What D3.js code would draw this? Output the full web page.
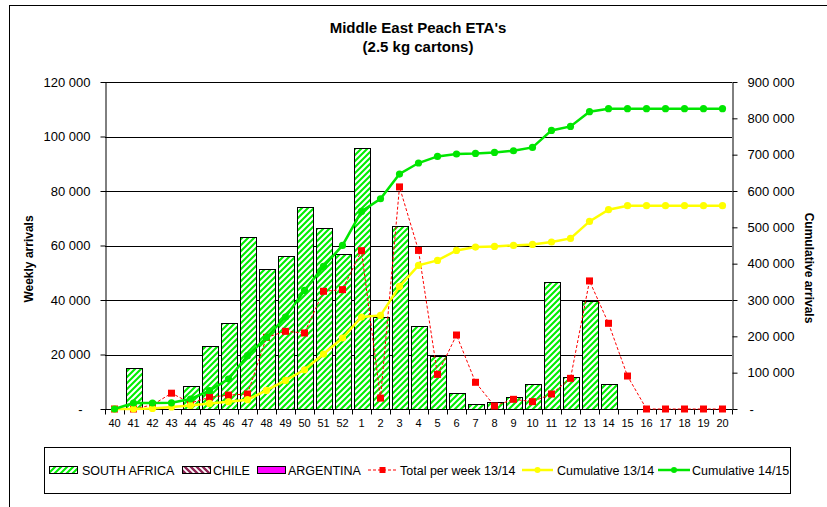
<!DOCTYPE html>
<html><head><meta charset="utf-8">
<script src="https://cdn.jsdelivr.net/npm/d3@7"></script>
<style>
body{margin:0;background:#fff}
svg{display:block}
text{font-family:"Liberation Sans",Arial,sans-serif;fill:#000}
</style>
</head><body>
<svg id="c" width="827" height="507"></svg>
<script>
// ---------- DATA ----------
const weeks = ["40","41","42","43","44","45","46","47","48","49","50","51","52",
  "1","2","3","4","5","6","7","8","9","10","11","12","13","14","15","16","17","18","19","20"];
const southAfrica = [0,15000,0,0,8500,23000,31500,63000,51400,56000,74100,66300,56900,
  95800,33800,67000,30500,19400,5800,1700,2700,4500,9200,46600,11900,39700,9000,0,0,0,0,0,0];
const chile = [0,0,0,0,0,0,0,0,0,0,0,0,0,
  0,0,0,0,0,0,0,0,0,0,0,0,0,0,0,0,0,0,0,0];
const argentina = [0,0,0,0,0,0,0,0,0,0,0,0,0,
  0,0,0,0,0,0,0,0,0,0,0,0,0,0,0,0,0,0,0,0];
const totalWeek1314 = [0,0,1500,5800,2200,4300,5100,5500,26300,28500,27900,43200,43800,
  58100,4000,81500,58200,12700,27150,9800,1100,3550,2700,5500,11250,47000,31450,12100,0,0,0,0,0];
const cumulative1314 = [0,0,1500,5500,9900,15400,20000,25600,51200,78700,108000,151400,195400,
  253200,257600,337400,395200,409000,436500,445600,447500,450200,453000,459600,469500,516300,548500,559500,559500,559500,559500,559500,559500];
const cumulative1415 = [0,16500,16500,17000,27500,50400,82600,146700,197000,253200,326400,392400,450200,
  543800,578700,646700,677000,695200,701800,703400,706200,710800,720000,766700,777700,818200,826500,826500,826500,826500,826500,826500,826500];
const leftTicks = [0,20000,40000,60000,80000,100000,120000];
const rightTicks = [0,100000,200000,300000,400000,500000,600000,700000,800000,900000];
const titleLines = ["Middle East Peach ETA's","(2.5 kg cartons)"];
const legendLabels = ["SOUTH AFRICA","CHILE","ARGENTINA","Total per week 13/14","Cumulative 13/14","Cumulative 14/15"];

// ---------- LAYOUT ----------
const svg = d3.select("#c");
const L = 105, R = 732, T = 82, B = 409;
const GREEN = "#00e600", YELLOW = "#ffff00", RED = "#ff0000";

svg.append("rect").attr("width",827).attr("height",507).attr("fill","#fff");
svg.append("rect").attr("x",9.5).attr("y",5.5).attr("width",830).attr("height",520)
  .attr("fill","none").attr("stroke","#000").attr("stroke-width",1);

const defs = svg.append("defs");
const pSA = defs.append("pattern").attr("id","pSA").attr("patternUnits","userSpaceOnUse")
  .attr("width",6).attr("height",6);
pSA.append("rect").attr("width",6).attr("height",6).attr("fill","#fff");
pSA.append("path").attr("d","M-1,7 L7,-1 M-1,1 L1,-1 M5,7 L7,5")
  .attr("stroke","#00ee00").attr("stroke-width",2.1);
const pCL = defs.append("pattern").attr("id","pCL").attr("patternUnits","userSpaceOnUse")
  .attr("width",6).attr("height",6);
pCL.append("rect").attr("width",6).attr("height",6).attr("fill","#fff");
pCL.append("path").attr("d","M-1,-1 L7,7 M5,-1 L7,1 M-1,5 L1,7")
  .attr("stroke","#8b2252").attr("stroke-width",2.3);

const x = d3.scaleBand().domain(weeks).range([L,R]).paddingInner(0.158).paddingOuter(0.079);
const cx = w => x(w) + x.bandwidth()/2;
const yL = d3.scaleLinear().domain([0,120000]).range([B,T]);
const yR = d3.scaleLinear().domain([0,900000]).range([B,T]);
const fmt = v => v === 0 ? "-" : d3.format(",")(v).replace(/,/g," ");

// gridlines
svg.append("g").selectAll("line").data(leftTicks.filter(d=>d>0)).join("line")
  .attr("x1",L).attr("x2",R).attr("y1",d=>Math.round(yL(d))+0.5).attr("y2",d=>Math.round(yL(d))+0.5)
  .attr("stroke","#000").attr("stroke-width",1);

// bars (stacked)
const stackData = weeks.map((w,i)=>({w, sa:southAfrica[i], cl:chile[i], ar:argentina[i]}));
const series = d3.stack().keys(["sa","cl","ar"])(stackData);
const fills = {sa:"url(#pSA)", cl:"url(#pCL)", ar:"#ff00ff"};
series.forEach(s=>{
  svg.append("g").selectAll("rect").data(s.filter(d=>d[1]-d[0]>0)).join("rect")
    .attr("x",d=>Math.round(x(d.data.w))+0.5)
    .attr("width",Math.round(x.bandwidth()))
    .attr("y",d=>Math.round(yL(d[1]))+0.5)
    .attr("height",d=>Math.round(yL(d[0]))-Math.round(yL(d[1])))
    .attr("fill",fills[s.key]).attr("stroke","#000").attr("stroke-width",1);
});

// axes
const gL = svg.append("g").attr("transform",`translate(${L+0.5},0)`)
  .call(d3.axisLeft(yL).tickValues(leftTicks).tickFormat(fmt).tickSize(5).tickSizeOuter(0).tickPadding(10));
const gR = svg.append("g").attr("transform",`translate(${R+0.5},0)`)
  .call(d3.axisRight(yR).tickValues(rightTicks).tickFormat(fmt).tickSize(5).tickSizeOuter(0).tickPadding(10));
[gL,gR].forEach(g=>{
  g.selectAll("text").attr("font-size",13).attr("font-family","Liberation Sans, Arial, sans-serif");
  g.selectAll("line,path").attr("stroke","#000");
});
gL.selectAll(".tick").filter(d=>d===0).select("text").attr("dx",-8);
gR.selectAll(".tick").filter(d=>d===0).select("text").attr("dx",2);

const gB = svg.append("g").attr("transform",`translate(0,${B+0.5})`)
  .call(d3.axisBottom(x).tickSize(0).tickPadding(10).tickSizeOuter(0));
gB.select(".domain").attr("d",`M${L},0H${R}`).attr("stroke","#000");
gB.selectAll("text").attr("font-size",11).attr("font-family","Liberation Sans, Arial, sans-serif");
const bounds = weeks.map(w=>x(w) - x.step()*x.paddingInner()/2).concat([R]);
gB.selectAll(".bt").data(bounds).join("line").attr("class","bt")
  .attr("x1",d=>Math.round(d)+0.5).attr("x2",d=>Math.round(d)+0.5).attr("y1",0).attr("y2",5).attr("stroke","#000");

// lines
const lineL = d3.line().x((d,i)=>cx(weeks[i])).y(d=>yL(d));
const lineR = d3.line().x((d,i)=>cx(weeks[i])).y(d=>yR(d));
svg.append("path").attr("d",lineL(totalWeek1314)).attr("fill","none")
  .attr("stroke",RED).attr("stroke-width",1).attr("stroke-dasharray","3,2");
svg.append("g").selectAll("rect").data(totalWeek1314).join("rect")
  .attr("x",(d,i)=>cx(weeks[i])-3.5).attr("y",d=>yL(d)-3.5).attr("width",7).attr("height",7).attr("fill",RED);

svg.append("path").attr("d",lineR(cumulative1314)).attr("fill","none")
  .attr("stroke",YELLOW).attr("stroke-width",2.5);
svg.append("g").selectAll("circle").data(cumulative1314).join("circle")
  .attr("cx",(d,i)=>cx(weeks[i])).attr("cy",d=>yR(d)).attr("r",3.6).attr("fill",YELLOW);

svg.append("path").attr("d",lineR(cumulative1415)).attr("fill","none")
  .attr("stroke",GREEN).attr("stroke-width",2.5);
svg.append("g").selectAll("circle").data(cumulative1415).join("circle")
  .attr("cx",(d,i)=>cx(weeks[i])).attr("cy",d=>yR(d)).attr("r",3.6).attr("fill",GREEN);

// titles
svg.append("text").attr("x",418).attr("y",33).attr("text-anchor","middle")
  .attr("font-size",15).attr("font-weight","bold").text(titleLines[0]);
svg.append("text").attr("x",418).attr("y",52).attr("text-anchor","middle")
  .attr("font-size",15).attr("font-weight","bold").text(titleLines[1]);
svg.append("text").attr("transform","translate(33,259) rotate(-90)").attr("text-anchor","middle")
  .attr("font-size",12).attr("font-weight","bold").text("Weekly arrivals");
svg.append("text").attr("transform","translate(805,268) rotate(90)").attr("text-anchor","middle")
  .attr("font-size",12).attr("font-weight","bold").text("Cumulative arrivals");

// legend
svg.append("rect").attr("x",44.5).attr("y",447.5).attr("width",746).attr("height",46)
  .attr("fill","#fff").attr("stroke","#000");
const ly = 470;
const swatches = [
  {x:49, fill:"url(#pSA)", tx:82},
  {x:182, fill:"url(#pCL)", tx:213},
  {x:257, fill:"#ff00ff", tx:288}
];
swatches.forEach((s,i)=>{
  svg.append("rect").attr("x",s.x+0.5).attr("y",ly-3.5).attr("width",28).attr("height",7)
    .attr("fill",s.fill).attr("stroke","#000");
  svg.append("text").attr("x",s.tx).attr("y",ly+4.5).attr("font-size",12.5).text(legendLabels[i]);
});
const lineItems = [
  {x1:368,x2:397,color:RED,dash:"3,2",w:1,mk:"sq",tx:400},
  {x1:522,x2:553,color:YELLOW,dash:null,w:2.5,mk:"ci",tx:557},
  {x1:658,x2:690,color:GREEN,dash:null,w:2.5,mk:"ci",tx:692}
];
lineItems.forEach((it,i)=>{
  svg.append("line").attr("x1",it.x1).attr("x2",it.x2).attr("y1",ly).attr("y2",ly)
    .attr("stroke",it.color).attr("stroke-width",it.w).attr("stroke-dasharray",it.dash);
  const mx=(it.x1+it.x2)/2;
  if(it.mk==="sq") svg.append("rect").attr("x",mx-3).attr("y",ly-3).attr("width",6).attr("height",6).attr("fill",it.color);
  else svg.append("circle").attr("cx",mx).attr("cy",ly).attr("r",3).attr("fill",it.color);
  svg.append("text").attr("x",it.tx).attr("y",ly+4.5).attr("font-size",12.5).text(legendLabels[3+i]);
});
</script>
</body></html>
